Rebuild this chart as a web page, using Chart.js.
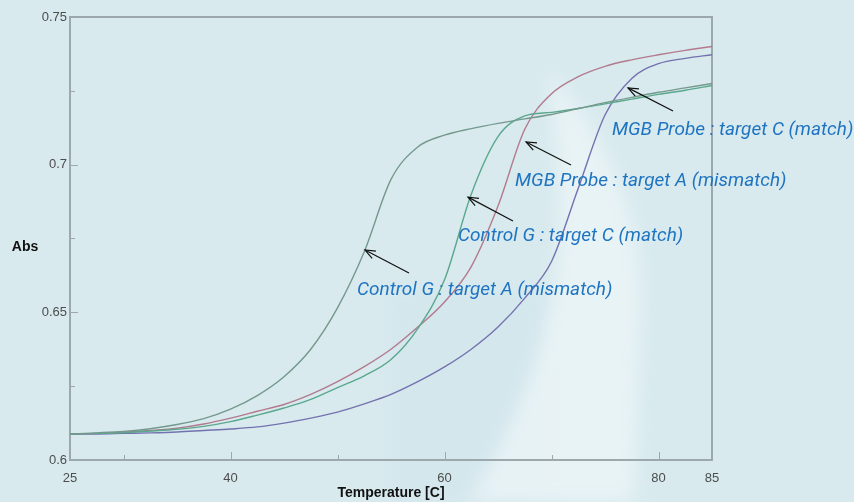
<!DOCTYPE html>
<html>
<head>
<meta charset="utf-8">
<script src="https://cdn.jsdelivr.net/npm/chart.js@4.4.1/dist/chart.umd.min.js"></script>
<style>
  html, body { margin: 0; padding: 0; }
  body {
    width: 854px; height: 502px; overflow: hidden; position: relative;
    background: #d8eaee;
  }
  .backdrop, .wrap { position: absolute; left: 0; top: 0; width: 854px; height: 502px; }
</style>
</head>
<body>
<svg class="backdrop" width="854" height="502" viewBox="0 0 854 502">
  <defs>
    <filter id="soft" x="-20%" y="-20%" width="140%" height="140%">
      <feGaussianBlur stdDeviation="9"/>
    </filter>
  </defs>
  <rect x="390" y="290" width="160" height="212" fill="#cfe3ec" opacity="0.4" filter="url(#soft)"/>
  <path d="M 548 70 C 610 140, 645 220, 640 320 L 634 502 L 468 502 C 520 420, 560 320, 560 220 C 560 150, 552 110, 548 70 Z"
        fill="#eef6f8" opacity="0.75" filter="url(#soft)"/>
</svg>
<div class="wrap"><canvas id="chart" width="854" height="502"></canvas></div>
<script>
// Melting curves: absorbance against temperature for the four probe/target pairs
const temperatures = [25, 27.5, 30, 32.5, 35, 37.5, 40, 42.5, 45, 47.5, 50, 52.5, 55,
                      57.5, 60, 62.5, 65, 67.5, 70, 72.5, 75, 77.5, 80, 82.5, 85];

const controlG_targetA = [0.6088, 0.6092, 0.6097, 0.6106, 0.6120, 0.6140, 0.6172, 0.6218, 0.6282,
                          0.6375, 0.6515, 0.6705, 0.6950, 0.7060, 0.7100, 0.7122, 0.7140, 0.7155,
                          0.7170, 0.7190, 0.7210, 0.7228, 0.7245, 0.7260, 0.7275];
const controlG_targetC = [0.6088, 0.6090, 0.6093, 0.6098, 0.6104, 0.6114, 0.6130, 0.6152, 0.6176,
                          0.6205, 0.6245, 0.6285, 0.6340, 0.6445, 0.6610, 0.6900, 0.7095, 0.7165,
                          0.7177, 0.7190, 0.7206, 0.7222, 0.7238, 0.7252, 0.7268];
const mgb_targetA      = [0.6088, 0.6090, 0.6094, 0.6100, 0.6108, 0.6122, 0.6142, 0.6165, 0.6188,
                          0.6222, 0.6265, 0.6316, 0.6375, 0.6450, 0.6535, 0.6655, 0.6860, 0.7120,
                          0.7240, 0.7298, 0.7333, 0.7355, 0.7372, 0.7387, 0.7400];
const mgb_targetC      = [0.6088, 0.6088, 0.6090, 0.6092, 0.6095, 0.6100, 0.6105, 0.6112, 0.6125,
                          0.6142, 0.6162, 0.6190, 0.6222, 0.6265, 0.6315, 0.6375, 0.6450, 0.6548,
                          0.6672, 0.6920, 0.7168, 0.7292, 0.7342, 0.7360, 0.7372];

const xTickValues = [25, 30, 40, 50, 60, 70, 80, 85];
const xTickLabels = ['25', '', '40', '', '60', '', '80', '85'];
const yTickValues = [0.6, 0.625, 0.65, 0.675, 0.7, 0.725, 0.75];
const yTickLabels = ['0.6', '', '0.65', '', '0.7', '', '0.75'];

const calloutTexts = [
  'Control G : target A (mismatch)',
  'Control G : target C (match)',
  'MGB Probe : target A (mismatch)',
  'MGB Probe : target C (match)'
];
// arrow tip, arrow tail and text anchor (left, middle), in axis units
const calloutAnchors = [
  { tip: [52.57, 0.6711], tail: [56.68, 0.6633], text: [51.82, 0.6576] },
  { tip: [62.20, 0.6890], tail: [66.40, 0.6809], text: [61.26, 0.6758] },
  { tip: [67.62, 0.7077], tail: [71.82, 0.6999], text: [66.59, 0.6945] },
  { tip: [77.15, 0.7260], tail: [81.36, 0.7182], text: [75.65, 0.7117] }
];

const toPoints = ys => ys.map((y, i) => ({ x: temperatures[i], y }));
const frameColor = '#9ca8ab';

function series(values, color) {
  return {
    data: toPoints(values),
    borderColor: color,
    borderWidth: 1.4,
    pointRadius: 0,
    fill: false,
    cubicInterpolationMode: 'monotone'
  };
}

const decorations = {
  id: 'decorations',
  beforeDatasetsDraw(chart) {
    const { ctx, chartArea: a, scales: { x, y } } = chart;
    ctx.save();
    // plot frame
    ctx.strokeStyle = frameColor;
    ctx.lineWidth = 2;
    ctx.strokeRect(a.left, a.top, a.right - a.left, a.bottom - a.top);
    // inward tick marks
    ctx.lineWidth = 1;
    xTickValues.forEach((v, i) => {
      const px = Math.round(x.getPixelForValue(v)) + 0.5;
      const len = xTickLabels[i] ? 8 : 5;
      ctx.beginPath(); ctx.moveTo(px, a.bottom); ctx.lineTo(px, a.bottom - len); ctx.stroke();
    });
    yTickValues.forEach((v, i) => {
      const py = Math.round(y.getPixelForValue(v)) + 0.5;
      const len = yTickLabels[i] ? 8 : 5;
      ctx.beginPath(); ctx.moveTo(a.left, py); ctx.lineTo(a.left + len, py); ctx.stroke();
    });
    // horizontal y-axis caption
    ctx.fillStyle = '#111';
    ctx.font = 'bold 14px "Liberation Sans", Arial, sans-serif';
    ctx.textAlign = 'center';
    ctx.textBaseline = 'middle';
    ctx.fillText('Abs', 25, y.getPixelForValue(0.672));
    ctx.restore();
  },
  afterDatasetsDraw(chart) {
    const { ctx, scales: { x, y } } = chart;
    const px = p => [x.getPixelForValue(p[0]), y.getPixelForValue(p[1])];
    ctx.save();
    calloutAnchors.forEach((c, i) => {
      const [tx, ty] = px(c.tip);
      const [sx, sy] = px(c.tail);
      ctx.strokeStyle = '#111';
      ctx.lineWidth = 1.2;
      ctx.beginPath(); ctx.moveTo(sx, sy); ctx.lineTo(tx, ty); ctx.stroke();
      const ang = Math.atan2(sy - ty, sx - tx);
      const head = 11, spread = 0.38;
      ctx.beginPath();
      ctx.moveTo(tx + head * Math.cos(ang - spread), ty + head * Math.sin(ang - spread));
      ctx.lineTo(tx, ty);
      ctx.lineTo(tx + head * Math.cos(ang + spread), ty + head * Math.sin(ang + spread));
      ctx.stroke();
      const [lx, ly] = px(c.text);
      ctx.fillStyle = '#1f74c1';
      ctx.font = 'italic 19px Roboto, "Open Sans", sans-serif';
      ctx.textAlign = 'left';
      ctx.textBaseline = 'middle';
      ctx.fillText(calloutTexts[i], lx, ly);
    });
    ctx.restore();
  }
};

new Chart(document.getElementById('chart'), {
  type: 'line',
  data: {
    datasets: [
      series(controlG_targetA, '#74998c'),
      series(controlG_targetC, '#5aa78d'),
      series(mgb_targetA, '#b27a8d'),
      series(mgb_targetC, '#7472ae')
    ]
  },
  options: {
    responsive: false,
    animation: false,
    events: [],
    layout: { padding: { left: 0, top: 17, right: 142, bottom: 0 } },
    plugins: { legend: { display: false }, tooltip: { enabled: false } },
    scales: {
      x: {
        type: 'linear',
        min: 25, max: 85,
        afterBuildTicks: s => { s.ticks = xTickValues.map(v => ({ value: v })); },
        afterFit: s => { s.height = 42; },
        grid: { display: false, drawTicks: false },
        border: { display: false },
        ticks: {
          autoSkip: false, maxRotation: 0, padding: 11,
          color: '#4d4d4d',
          font: { family: '"Liberation Sans", Arial, sans-serif', size: 13 },
          callback: v => xTickLabels[xTickValues.indexOf(v)] ?? ''
        },
        title: {
          display: true, text: 'Temperature [C]', color: '#111',
          font: { family: '"Liberation Sans", Arial, sans-serif', size: 14, weight: 'bold' },
          padding: { top: 0, bottom: 0 }
        }
      },
      y: {
        type: 'linear',
        min: 0.6, max: 0.75,
        afterBuildTicks: s => { s.ticks = yTickValues.map(v => ({ value: v })); },
        afterFit: s => { s.width = 70; },
        grid: { display: false, drawTicks: false },
        border: { display: false },
        ticks: {
          autoSkip: false, padding: 3,
          color: '#4d4d4d',
          font: { family: '"Liberation Sans", Arial, sans-serif', size: 13 },
          callback: v => yTickLabels[yTickValues.findIndex(t => Math.abs(t - v) < 1e-9)] ?? ''
        }
      }
    }
  },
  plugins: [decorations]
});
</script>
</body>
</html>
